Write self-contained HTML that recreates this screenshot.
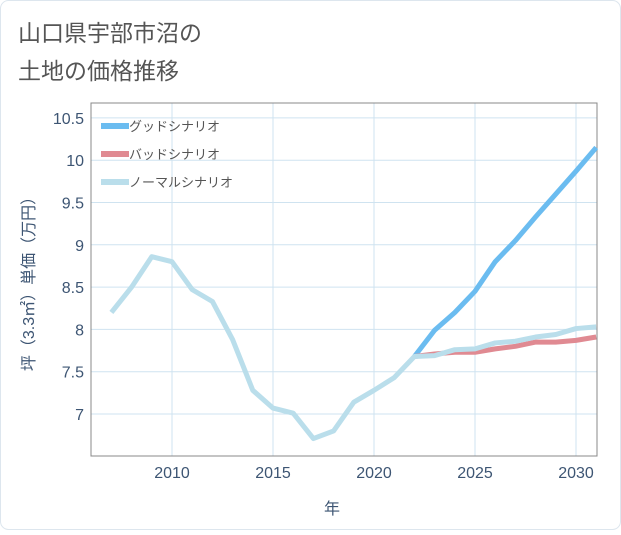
<!DOCTYPE html>
<html><head><meta charset="utf-8"><style>
body{margin:0;background:#fff;}
svg text{font-family:"Liberation Sans","Noto Sans CJK JP",sans-serif;}
</style></head><body>
<svg width="621" height="530" xmlns="http://www.w3.org/2000/svg">
<rect x="0.5" y="0.5" width="620" height="529" rx="8" fill="#fff" stroke="#dde6ee"/>
<text x="18" y="41" font-size="23" fill="#555">山口県宇部市沼の</text>
<text x="18" y="79" font-size="23" fill="#555">土地の価格推移</text>
<g id="grid"></g>
<rect x="91" y="103" width="506" height="353" fill="none" stroke="#888" stroke-width="1"/>
<g id="series"></g>
<g id="axes"></g>
<text x="332" y="514" font-size="16" fill="#3d5573" text-anchor="middle">年</text>
<text transform="translate(34,280) rotate(-90)" font-size="16" fill="#3d5573" text-anchor="middle">坪（3.3㎡）単価（万円）</text>
<g>
<line x1="101" y1="126" x2="129" y2="126" stroke="#6bbcf0" stroke-width="6"/>
<text x="129" y="131" font-size="13" fill="#555">グッドシナリオ</text>
<line x1="101" y1="154" x2="129" y2="154" stroke="#e08a92" stroke-width="6"/>
<text x="129" y="159" font-size="13" fill="#555">バッドシナリオ</text>
<line x1="101" y1="182" x2="129" y2="182" stroke="#badeeb" stroke-width="6"/>
<text x="129" y="187" font-size="13" fill="#555">ノーマルシナリオ</text>
</g>
</svg>
<script>
const normalYears=[2007,2008,2009,2010,2011,2012,2013,2014,2015,2016,2017,2018,2019,2020,2021,2022,2023,2024,2025,2026,2027,2028,2029,2030,2031];
const normalValues=[8.2,8.5,8.86,8.8,8.47,8.33,7.88,7.28,7.07,7.01,6.71,6.8,7.14,7.28,7.43,7.68,7.69,7.76,7.77,7.84,7.86,7.91,7.94,8.01,8.03];
const forecastYears=[2022,2023,2024,2025,2026,2027,2028,2029,2030,2031];
const goodValues=[7.68,7.99,8.2,8.45,8.8,9.05,9.33,9.6,9.87,10.15];
const badValues=[7.68,7.71,7.73,7.73,7.77,7.8,7.85,7.85,7.87,7.91];
const xTicks=[2010,2015,2020,2025,2030];
const yTicks=[7,7.5,8,8.5,9,9.5,10,10.5];
const yTickLabels=["7","7.5","8","8.5","9","9.5","10","10.5"];
const NS="http://www.w3.org/2000/svg";
const X=v=>172+(v-2010)*20.2;
const Y=v=>414-(v-7)*84.6;
function mk(t,a,p){const e=document.createElementNS(NS,t);for(const k in a)e.setAttribute(k,a[k]);p.appendChild(e);return e;}
const g=document.getElementById('grid'),ax=document.getElementById('axes'),s=document.getElementById('series');
xTicks.forEach(t=>{const l=mk('line',{x1:X(t),x2:X(t),y1:103,y2:456,stroke:'#cfe3f0'},g);


const tx=mk('text',{x:X(t),y:478,'font-size':16,fill:'#3d5573','text-anchor':'middle'},ax);tx.textContent=t;

});
yTicks.forEach((t,i)=>{const l=mk('line',{x1:91,x2:597,y1:Y(t),y2:Y(t),stroke:'#cfe3f0'},g);


const tx=mk('text',{x:84,y:Y(t)+6,'font-size':16,fill:'#3d5573','text-anchor':'end'},ax);tx.textContent=yTickLabels[i];

});
function line(xs,vs,c,n){const p=mk('polyline',{points:xs.map((x,i)=>X(x)+','+Y(vs[i])).join(' '),fill:'none',stroke:c,'stroke-width':5,'stroke-linejoin':'round'},s);

}
line(forecastYears,goodValues,'#6bbcf0','good-scenario-line');
line(forecastYears,badValues,'#e08a92','bad-scenario-line');
line(normalYears,normalValues,'#badeeb','normal-scenario-line');
</script>
</body></html>
